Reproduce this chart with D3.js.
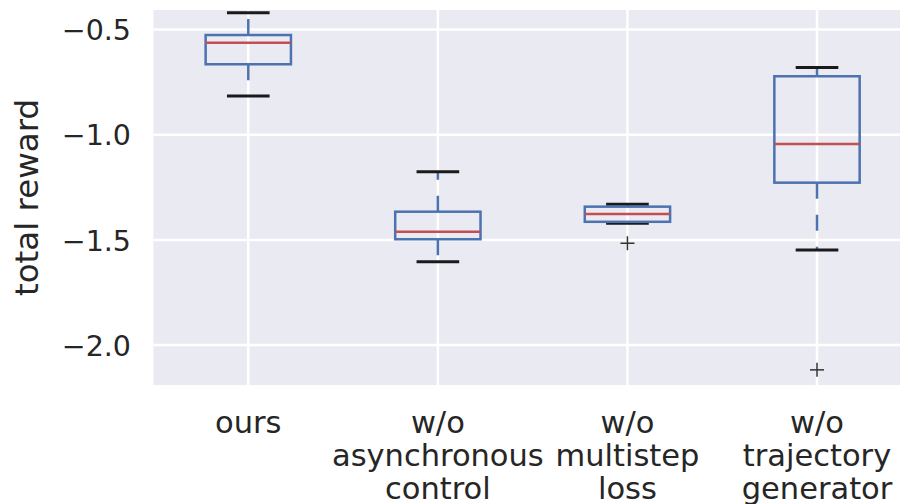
<!DOCTYPE html>
<html>
<head>
<meta charset="utf-8">
<script src="https://cdn.jsdelivr.net/npm/d3@7"></script>
<style>
  html, body { margin: 0; padding: 0; background: #fff; }
  svg { display: block; font-family: "DejaVu Sans", sans-serif; }
</style>
</head>
<body>
<div id="chart"></div>
<script>
// Box statistics (whisker ends, quartiles, median, outliers)
const categories = [
  ["ours"],
  ["w/o", "asynchronous", "control"],
  ["w/o", "multistep", "loss"],
  ["w/o", "trajectory", "generator"]
];
const whiskerHigh = [-0.420, -1.176, -1.331, -0.680];
const q3 = [-0.526, -1.366, -1.342, -0.722];
const median = [-0.563, -1.461, -1.377, -1.044];
const q1 = [-0.665, -1.497, -1.414, -1.228];
const whiskerLow = [-0.816, -1.604, -1.421, -1.548];
const outliers = [[], [], [-1.516], [-2.118]];
const yTicks = [-0.5, -1.0, -1.5, -2.0];

const width = 900, height = 504;
const plot = { left: 153.5, right: 911.8, top: 10, bottom: 385 };
const font = "DejaVu Sans, sans-serif";

const svg = d3.select("#chart").append("svg")
  .attr("width", width)
  .attr("height", height);

const x = d3.scaleLinear().domain([0.5, 4.5]).range([plot.left, plot.right]);
const y = d3.scaleLinear().domain([-2.19, -0.407]).range([plot.bottom, plot.top]);

// background
svg.append("rect")
  .attr("x", plot.left).attr("y", plot.top)
  .attr("width", plot.right - plot.left).attr("height", plot.bottom - plot.top)
  .attr("fill", "#EAEAF2");

// grid
const grid = svg.append("g").attr("stroke", "#fff").attr("stroke-width", 2.5);
grid.selectAll(".hg").data(yTicks).join("line")
  .attr("x1", plot.left).attr("x2", plot.right)
  .attr("y1", d => y(d)).attr("y2", d => y(d));
grid.selectAll(".vg").data(categories).join("line")
  .attr("x1", (d, i) => x(i + 1)).attr("x2", (d, i) => x(i + 1))
  .attr("y1", plot.top).attr("y2", plot.bottom);

// y axis (labels only, seaborn darkgrid has no tick marks)
const yAxis = d3.axisLeft(y).tickValues(yTicks).tickSize(0).tickPadding(0)
  .tickFormat(d3.format(".1f"));
const gy = svg.append("g").attr("transform", `translate(${131},0)`).call(yAxis)
  .attr("font-family", font).attr("font-size", 28.5);
gy.select(".domain").remove();
gy.selectAll("text")
  .attr("fill", "#262626")
  .attr("dy", "0.36em");

// y label
svg.append("text")
  .attr("transform", `translate(38,${(plot.top + plot.bottom) / 2}) rotate(-90)`)
  .attr("text-anchor", "middle")
  .attr("font-family", font)
  .attr("font-size", 32.5)
  .attr("fill", "#262626")
  .text("total reward");

// x category labels
const xl = svg.append("g");
categories.forEach((lines, i) => {
  const t = xl.append("text")
    .attr("text-anchor", "middle")
    .attr("font-family", font)
    .attr("font-size", 30.5)
    .attr("fill", "#262626");
  lines.forEach((s, j) => {
    t.append("tspan")
      .attr("x", x(i + 1))
      .attr("y", 433 + j * 33)
      .text(s);
  });
});

// boxes
const boxW = 0.45, capW = boxW / 2;
const idx = d3.range(categories.length);
const boxes = svg.append("g");

// whiskers (dashed)
boxes.selectAll(".wh-up").data(idx).join("line")
  .attr("x1", i => x(i + 1)).attr("x2", i => x(i + 1))
  .attr("y1", i => y(q3[i])).attr("y2", i => y(whiskerHigh[i]))
  .attr("stroke", "#4C72B0").attr("stroke-width", 2.5)
  .attr("stroke-dasharray", "16,16");
boxes.selectAll(".wh-lo").data(idx).join("line")
  .attr("x1", i => x(i + 1)).attr("x2", i => x(i + 1))
  .attr("y1", i => y(q1[i])).attr("y2", i => y(whiskerLow[i]))
  .attr("stroke", "#4C72B0").attr("stroke-width", 2.5)
  .attr("stroke-dasharray", "16,16");

// caps
boxes.selectAll(".cap").data(idx.flatMap(i => [[i, whiskerHigh[i]], [i, whiskerLow[i]]])).join("line")
  .attr("x1", d => x(d[0] + 1 - capW / 2)).attr("x2", d => x(d[0] + 1 + capW / 2))
  .attr("y1", d => y(d[1])).attr("y2", d => y(d[1]))
  .attr("stroke", "#1a1a1a").attr("stroke-width", 3);

// box rectangles
boxes.selectAll(".box").data(idx).join("rect")
  .attr("x", i => x(i + 1 - boxW / 2))
  .attr("width", i => x(i + 1 + boxW / 2) - x(i + 1 - boxW / 2))
  .attr("y", i => y(q3[i]))
  .attr("height", i => y(q1[i]) - y(q3[i]))
  .attr("fill", "none")
  .attr("stroke", "#4C72B0").attr("stroke-width", 2.5);

// medians
boxes.selectAll(".med").data(idx).join("line")
  .attr("x1", i => x(i + 1 - boxW / 2)).attr("x2", i => x(i + 1 + boxW / 2))
  .attr("y1", i => y(median[i])).attr("y2", i => y(median[i]))
  .attr("stroke", "#C44E52").attr("stroke-width", 2.5);

// outliers as "+"
const fl = idx.flatMap(i => outliers[i].map(v => [i, v]));
const plus = boxes.selectAll(".fl").data(fl).join("g")
  .attr("transform", d => `translate(${x(d[0] + 1)},${y(d[1])})`)
  .attr("stroke", "#333").attr("stroke-width", 1.5);
plus.append("line").attr("x1", -7).attr("x2", 7);
plus.append("line").attr("y1", -7).attr("y2", 7);
</script>
</body>
</html>
